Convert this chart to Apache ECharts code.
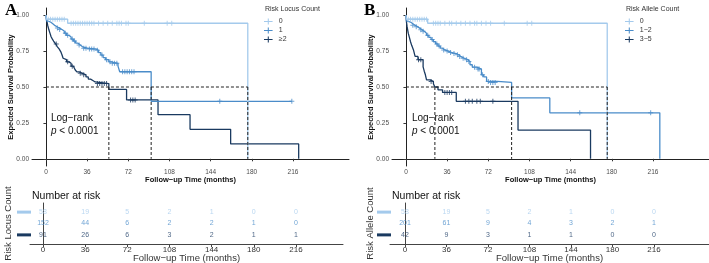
<!DOCTYPE html>
<html>
<head>
<meta charset="utf-8">
<script src="https://cdn.jsdelivr.net/npm/echarts@6/dist/echarts.min.js"></script>
<style>
  html, body { margin: 0; padding: 0; background: #fff; }
  #km { width: 709px; height: 263px; }
</style>
</head>
<body>
<div id="km"></div>
<script>
// 数据：生存曲线（时间, 生存率）
var tickTimes = [0, 36, 72, 108, 144, 180, 216];
var probTicks = [0, 0.25, 0.5, 0.75, 1];

var namesA = ['0', '1', '≥2'];
var namesB = ['0', '1−2', '3−5'];

var curveA0 = [[0, 1], [0.5, 0.972], [19, 0.944], [176.5, 0]];
var curveA1 = [[0, 1], [0.5, 0.96], [2, 0.953], [4, 0.94], [6, 0.927], [8, 0.918], [10, 0.91], [12, 0.9], [14, 0.89], [16, 0.875], [18, 0.86], [20, 0.848], [22, 0.834], [24, 0.82], [26, 0.805], [28, 0.792], [30, 0.78], [32, 0.77], [36, 0.764], [44, 0.756], [46, 0.74], [48, 0.722], [50, 0.705], [52, 0.69], [55, 0.675], [57, 0.665], [63, 0.645], [64.5, 0.606], [92, 0.40], [215, 0.40]];
var curveA2 = [[0, 1], [0.5, 0.97], [1.5, 0.93], [2.5, 0.9], [3.5, 0.875], [4.5, 0.85], [5.5, 0.835], [7, 0.815], [8.5, 0.8], [10, 0.78], [11.5, 0.765], [13, 0.745], [14, 0.725], [15, 0.7], [16.5, 0.69], [18, 0.675], [20, 0.665], [22, 0.645], [24, 0.632], [25.5, 0.62], [27, 0.605], [29, 0.595], [32, 0.585], [35, 0.57], [37, 0.555], [39, 0.545], [41, 0.535], [43, 0.524], [55, 0.483], [70.5, 0.41], [98, 0.307], [126, 0.205], [161.5, 0.104], [221, 0]];

var curveB0 = [[0, 1], [0.5, 0.972], [19, 0.944], [176, 0]];
var curveB1 = [[0, 1], [0.5, 0.96], [2, 0.952], [4, 0.94], [6, 0.93], [8, 0.92], [10, 0.91], [12, 0.898], [14, 0.888], [16, 0.875], [18, 0.86], [20, 0.845], [22, 0.83], [24, 0.815], [26, 0.8], [28, 0.785], [30, 0.77], [32, 0.758], [34, 0.75], [37, 0.74], [40, 0.733], [44, 0.724], [46, 0.712], [48, 0.7], [51, 0.69], [54, 0.678], [56, 0.655], [58, 0.638], [62, 0.625], [66, 0.585], [68, 0.57], [70.5, 0.539], [80, 0.532], [92.4, 0.424], [125.8, 0.32], [222, 0]];
var curveB2 = [[0, 1], [0.5, 0.95], [1, 0.92], [2, 0.875], [3, 0.845], [4, 0.815], [5, 0.79], [6.5, 0.76], [8, 0.713], [10.5, 0.69], [15, 0.64], [16, 0.61], [17, 0.585], [18, 0.55], [21, 0.539], [24, 0.523], [25.3, 0.5], [28, 0.48], [32, 0.462], [44, 0.40], [98, 0.2], [161.4, 0]];

// 删失点
var censorA0 = [[2, 0.972], [4, 0.972], [6, 0.972], [8, 0.972], [10, 0.972], [12, 0.972], [14, 0.972], [16, 0.972], [22, 0.944], [24, 0.944], [26, 0.944], [28, 0.944], [30, 0.944], [32, 0.944], [34, 0.944], [36, 0.944], [38, 0.944], [40, 0.944], [42, 0.944], [46, 0.944], [50, 0.944], [54, 0.944], [58, 0.944], [62, 0.944], [64, 0.944], [66, 0.944], [70, 0.944], [72, 0.944], [86, 0.944], [106, 0.944], [110, 0.944]];
var censorA1 = [[10, 0.91], [12, 0.9], [17, 0.875], [19, 0.86], [23, 0.834], [25, 0.82], [29, 0.792], [33, 0.77], [35, 0.77], [38, 0.764], [40, 0.764], [42, 0.764], [45, 0.756], [49, 0.722], [53, 0.69], [56, 0.675], [58, 0.665], [60, 0.665], [62, 0.665], [67, 0.606], [69, 0.606], [71, 0.606], [73, 0.606], [75, 0.606], [77, 0.606], [152, 0.40], [215, 0.40]];
var censorA2 = [[9, 0.8], [19, 0.675], [23, 0.645], [30, 0.595], [33, 0.585], [45, 0.524], [47, 0.524], [49, 0.524], [51, 0.524], [53, 0.524], [74, 0.41], [76, 0.41], [78, 0.41]];

var censorB0 = [[2, 0.972], [4, 0.972], [6, 0.972], [8, 0.972], [10, 0.972], [12, 0.972], [14, 0.972], [16, 0.972], [18, 0.972], [24, 0.944], [26, 0.944], [28, 0.944], [30, 0.944], [34, 0.944], [38, 0.944], [40, 0.944], [44, 0.944], [48, 0.944], [52, 0.944], [56, 0.944], [60, 0.944], [62, 0.944], [66, 0.944], [70, 0.944], [74, 0.944], [86, 0.944], [106, 0.944], [110, 0.944]];
var censorB1 = [[6, 0.93], [9, 0.92], [13, 0.898], [15, 0.888], [19, 0.86], [23, 0.83], [27, 0.8], [29, 0.785], [33, 0.758], [36, 0.75], [39, 0.74], [42, 0.733], [45, 0.724], [47, 0.712], [50, 0.7], [53, 0.69], [55, 0.678], [60, 0.638], [63, 0.625], [64, 0.625], [67, 0.585], [72, 0.539], [74, 0.532], [76, 0.532], [78, 0.532], [152, 0.32], [214, 0.32]];
var censorB2 = [[11, 0.69], [13, 0.69], [22, 0.539], [34, 0.462], [36, 0.462], [38, 0.462], [40, 0.462], [52, 0.40], [55, 0.40], [58, 0.40], [62, 0.40], [65, 0.40], [76, 0.40]];

// 中位生存时间
var mediansA = [55, 92, 176.5];
var mediansB = [25.3, 92.4, 176];

// Number at risk
var riskA0 = [58, 19, 5, 2, 1, 0, 0];
var riskA1 = [152, 44, 6, 2, 2, 1, 0];
var riskA2 = [91, 26, 6, 3, 2, 1, 1];
var riskB0 = [58, 19, 5, 2, 1, 0, 0];
var riskB1 = [201, 61, 9, 4, 3, 2, 1];
var riskB2 = [42, 9, 3, 1, 1, 0, 0];

var FONT = 'Liberation Sans';
var colors = ['#a4caec', '#4a8cc9', '#1a3a60'];
var textColors = ['#a9cdee', '#4d8fcb', '#1f3f66'];
var plus = 'path://M4,0H6V4H10V6H6V10H4V6H0V4H4Z';
var legendIcon = 'path://M0,4.4H4.4V1.5H5.6V4.4H10V5.6H5.6V8.5H4.4V5.6H0Z';

var myChart = echarts.init(document.getElementById('km'));

function kmX(idx) {
	return {
		gridIndex: idx, type: 'value', min: -12.2, max: 265,
		splitLine: { show: false },
		axisLine: { lineStyle: { color: '#222', width: 1 } },
		axisTick: { customValues: tickTimes, length: 2.5, lineStyle: { color: '#333' } },
		axisLabel: { customValues: tickTimes, fontSize: 6.5, color: '#4d4d4d', margin: 3, fontFamily: FONT },
		name: 'Follow−up Time (months)', nameLocation: 'middle', nameGap: 10, nameMoveOverlap: false,
		nameTextStyle: { fontSize: 7.5, fontWeight: 'bold', color: '#111', fontFamily: FONT }
	};
}
function kmY(idx) {
	return {
		gridIndex: idx, type: 'value', min: -0.05, max: 1.05,
		splitLine: { show: false },
		axisLine: { show: true, lineStyle: { color: '#222', width: 1 } },
		axisTick: { show: true, customValues: probTicks, length: 2.5, lineStyle: { color: '#333' } },
		axisLabel: {
			customValues: probTicks, fontSize: 6.5, color: '#4d4d4d', margin: 3, fontFamily: FONT,
			formatter: function (v) { return v.toFixed(2); }
		},
		name: 'Expected Survival Probability', nameLocation: 'middle', nameGap: 17, nameRotate: 90, nameMoveOverlap: false,
		nameTextStyle: { fontSize: 7.5, fontWeight: 'bold', color: '#111', fontFamily: FONT }
	};
}
function tabX(idx, min, max) {
	return {
		gridIndex: idx, type: 'value', min: min, max: max,
		splitLine: { show: false },
		axisLine: { lineStyle: { color: '#444', width: 1 } },
		axisTick: { customValues: tickTimes, length: 3, lineStyle: { color: '#444' } },
		axisLabel: { customValues: tickTimes, fontSize: 8, color: '#333', margin: 2, fontFamily: FONT },
		name: 'Follow−up Time (months)', nameLocation: 'middle', nameGap: 9, nameMoveOverlap: false,
		nameTextStyle: { fontSize: 9.5, color: '#333', fontFamily: FONT }
	};
}
function tabY(idx, name, gap) {
	return {
		gridIndex: idx, type: 'value', min: 0.2, max: 3.8,
		splitLine: { show: false },
		axisLine: { show: true, lineStyle: { color: '#444', width: 1 } },
		axisTick: { show: false },
		axisLabel: {
			customValues: [1, 2, 3], margin: -1, showMinLabel: true, showMaxLabel: true, hideOverlap: false,
			formatter: function (v) { return '{r' + Math.round(v) + '|}'; },
			rich: {
				r1: { width: 14, height: 3, backgroundColor: colors[2] },
				r2: { width: 14, height: 3, backgroundColor: colors[1] },
				r3: { width: 14, height: 3, backgroundColor: colors[0] }
			}
		},
		name: name, nameLocation: 'middle', nameGap: gap, nameRotate: 90, nameMoveOverlap: false,
		nameTextStyle: { fontSize: 9.5, color: '#333', fontFamily: FONT }
	};
}

var series = [];
function addPanel(idx, names, curves, censors, medians) {
	for (var g = 0; g < 3; g++) {
		series.push({
			name: names[g], type: 'line', step: 'end', xAxisIndex: idx, yAxisIndex: idx,
			data: curves[g], symbol: 'none', color: colors[g],
			lineStyle: { width: 1.3, color: colors[g] }, z: 5 - g
		});
		series.push({
			name: names[g], type: 'scatter', xAxisIndex: idx, yAxisIndex: idx,
			data: censors[g], symbol: plus, symbolSize: 5, itemStyle: { color: colors[g] }, z: 5 - g
		});
	}
	// 中位数虚线
	var segs = [[[0, 0.5], [medians[medians.length - 1], 0.5]]];
	for (var m = 0; m < medians.length; m++) segs.push([[medians[m], 0.5], [medians[m], 0]]);
	segs.forEach(function (s) {
		series.push({
			type: 'line', xAxisIndex: idx, yAxisIndex: idx, data: s, symbol: 'none', z: 10,
			lineStyle: { color: '#222', width: 1, type: [3, 2] }, silent: true
		});
	});
}
function addTable(idx, risks) {
	for (var g = 0; g < 3; g++) {
		var pts = [];
		for (var i = 0; i < tickTimes.length; i++) pts.push([tickTimes[i], 3 - g, risks[g][i]]);
		series.push({
			type: 'scatter', xAxisIndex: idx, yAxisIndex: idx, data: pts, symbolSize: 1,
			itemStyle: { color: 'rgba(0,0,0,0)' }, silent: true,
			label: {
				show: true, position: 'inside', fontSize: 7, color: textColors[g], fontFamily: FONT,
				formatter: function (p) { return p.value[2]; }
			}
		});
	}
}

addPanel(0, namesA, [curveA0, curveA1, curveA2], [censorA0, censorA1, censorA2], mediansA);
addPanel(1, namesB, [curveB0, curveB1, curveB2], [censorB0, censorB1, censorB2], mediansB);
addTable(2, [riskA0, riskA1, riskA2]);
addTable(3, [riskB0, riskB1, riskB2]);

function legendFor(left, names) {
	return {
		left: left, top: 13, orient: 'vertical', itemWidth: 11, itemHeight: 6, itemGap: 2,
		data: names.map(function (n) { return { name: n, icon: legendIcon }; }),
		textStyle: { fontSize: 7, color: '#333', fontFamily: FONT },
		selectedMode: false
	};
}
function plainTitle(text, left, top, size) {
	return { text: text, left: left, top: top, textStyle: { fontSize: size, fontWeight: 'normal', color: '#111', fontFamily: FONT } };
}

var pStyle = {
	fontSize: 10, fontWeight: 'normal', color: '#111', fontFamily: FONT,
	rich: { i: { fontSize: 10, fontStyle: 'italic', fontWeight: 'normal', color: '#111', fontFamily: FONT } }
};
var gridBase = { outerBoundsMode: 'none', containLabel: false };

option = {
	backgroundColor: '#fff',
	animation: false,
	grid: [
		Object.assign({ left: 32, top: 8, width: 317, height: 158 }, gridBase),
		Object.assign({ left: 392, top: 8, width: 317, height: 158 }, gridBase),
		Object.assign({ left: 30, top: 203, width: 313, height: 41 }, gridBase),
		Object.assign({ left: 390, top: 203, width: 319, height: 41 }, gridBase)
	],
	xAxis: [kmX(0), kmX(1), tabX(2, -11.1, 256.2), tabX(3, -13, 263.7)],
	yAxis: [kmY(0), kmY(1), tabY(2, 'Risk Locus Count', 17), tabY(3, 'Risk Allele Count', 15)],
	legend: [legendFor(259, namesA), legendFor(620, namesB)],
	title: [
		{ text: 'A', left: 0, top: -3, textStyle: { fontFamily: 'Liberation Serif', fontWeight: 'bold', fontSize: 17, color: '#000' } },
		{ text: 'B', left: 359, top: -3, textStyle: { fontFamily: 'Liberation Serif', fontWeight: 'bold', fontSize: 17, color: '#000' } },
		{ text: 'Risk Locus Count', left: 260, top: 1, textStyle: { fontSize: 7, fontWeight: 'normal', color: '#333', fontFamily: FONT } },
		{ text: 'Risk Allele Count', left: 621, top: 1, textStyle: { fontSize: 7, fontWeight: 'normal', color: '#333', fontFamily: FONT } },
		plainTitle('Log−rank', 46, 108, 10),
		{ text: '{i|p} < 0.0001', left: 46, top: 121, textStyle: pStyle },
		plainTitle('Log−rank', 407, 108, 10),
		{ text: '{i|p} < 0.0001', left: 407, top: 121, textStyle: pStyle },
		plainTitle('Number at risk', 27, 186, 10.5),
		plainTitle('Number at risk', 387, 186, 10.5)
	],
	series: series
};

myChart.setOption(option);
</script>
</body>
</html>
